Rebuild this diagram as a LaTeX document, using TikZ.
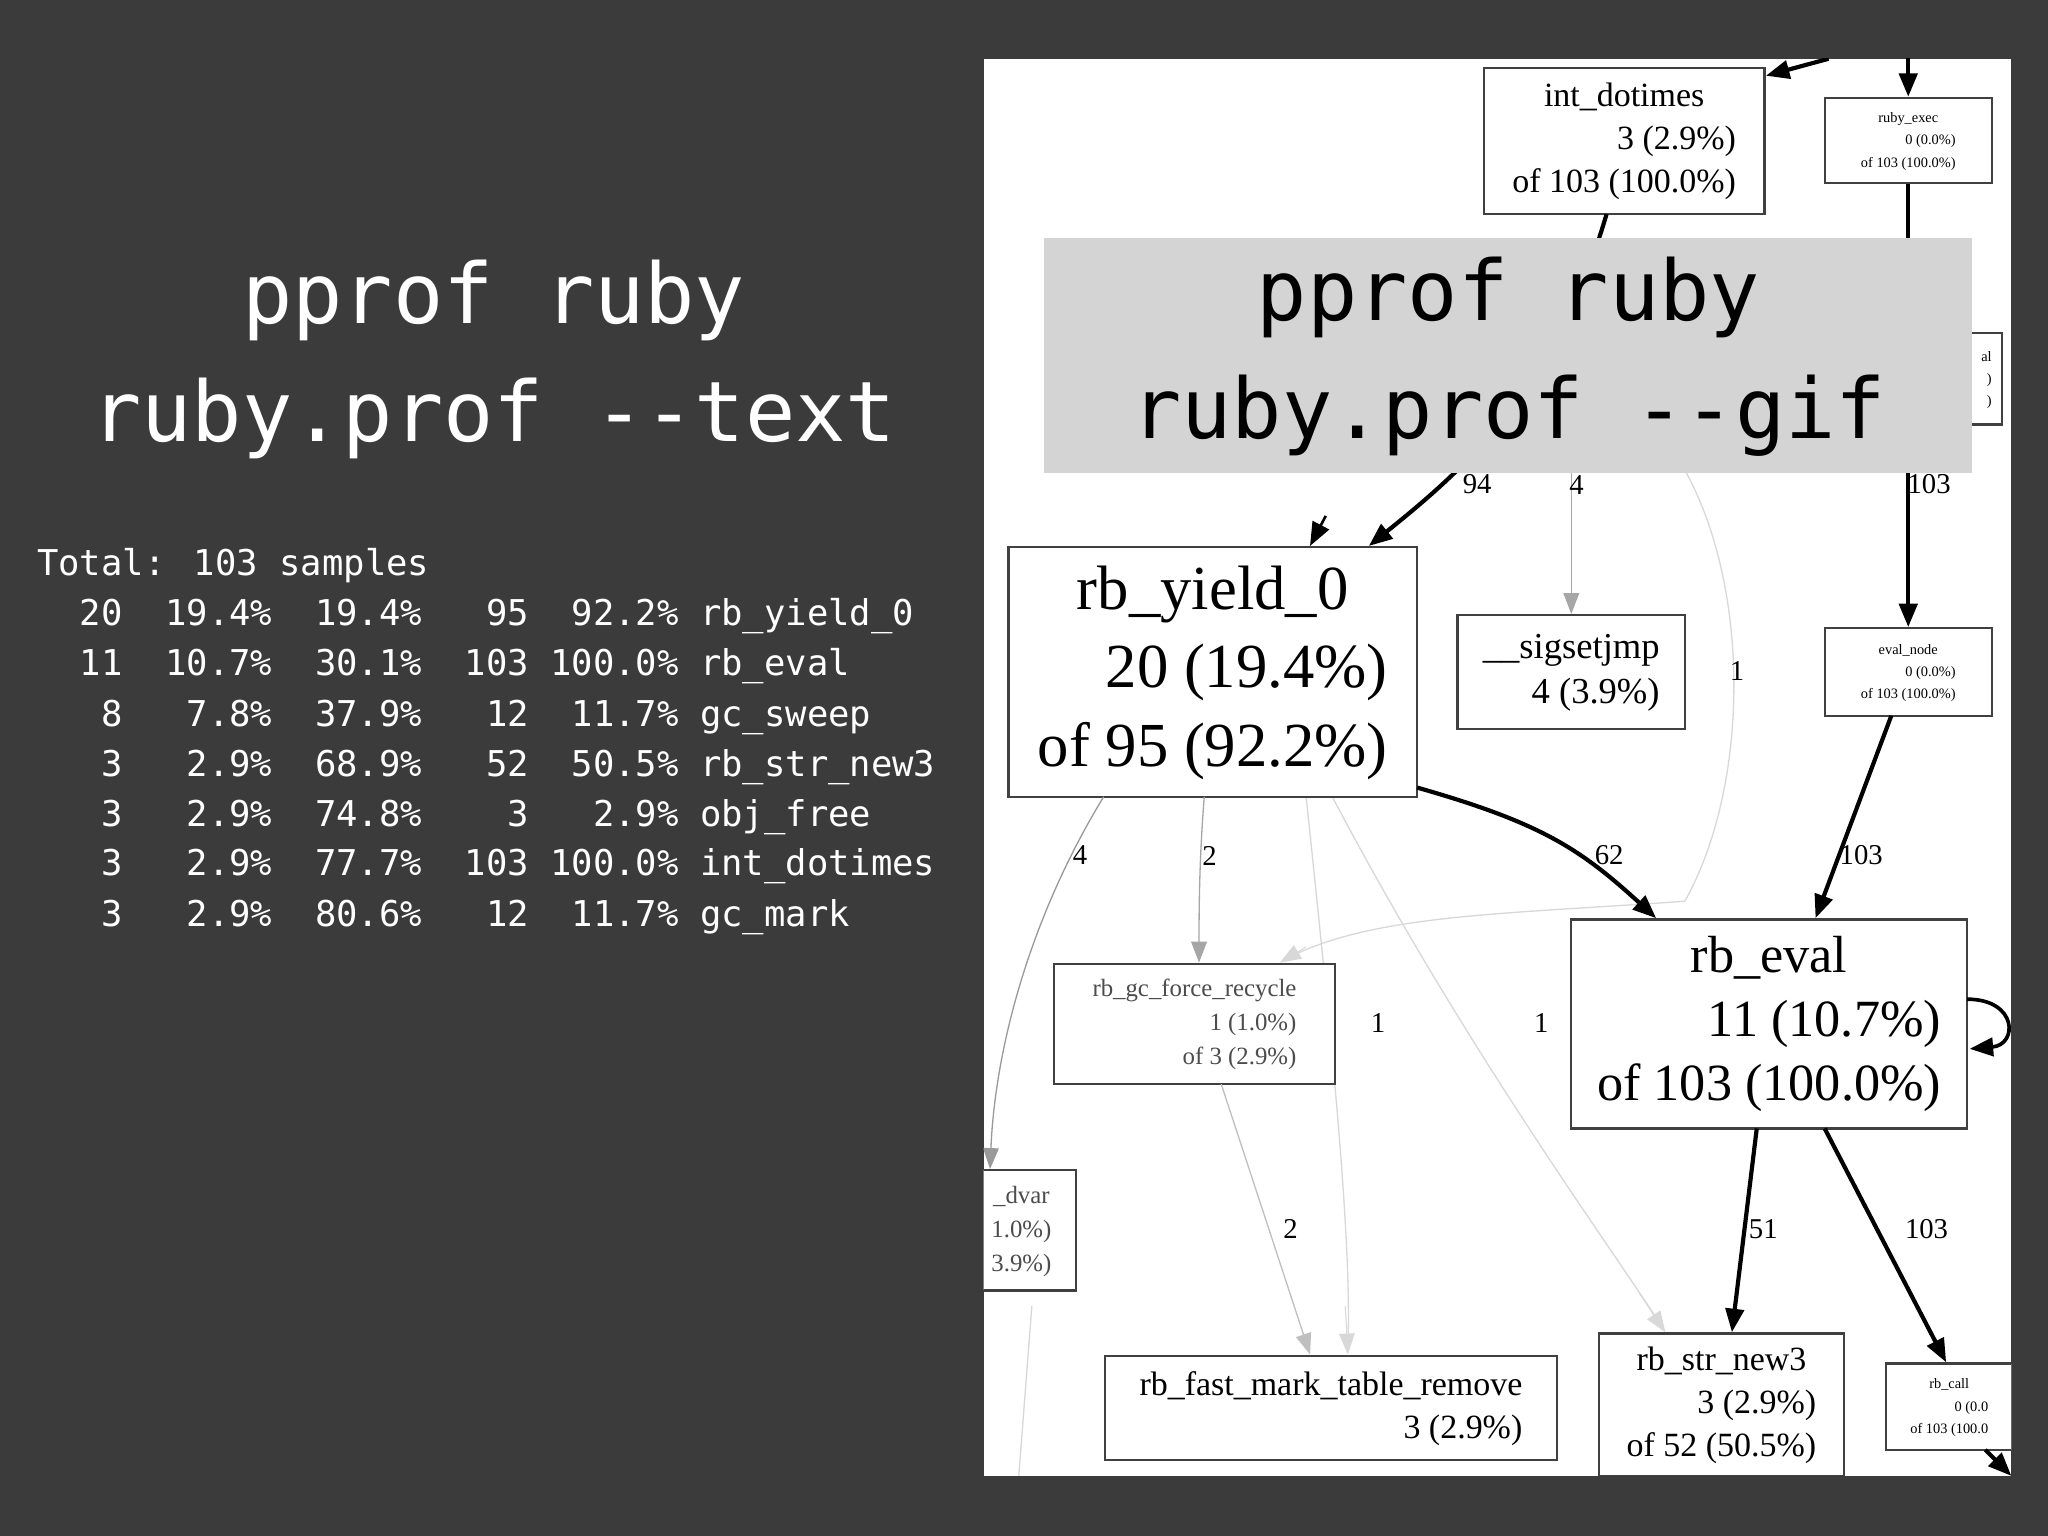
\documentclass[tikz,border=0pt]{standalone}
\usepackage{fontspec}
\setmainfont{Liberation Serif}
\newfontfamily\monof{DejaVu Sans Mono}
\usetikzlibrary{arrows.meta}
\definecolor{bgc}{HTML}{3B3B3B}
\definecolor{gboxc}{HTML}{D4D4D4}
\definecolor{faint}{HTML}{D8D8D8}
\newcommand{\gvlab}[3]{\begin{tabular}{@{}r@{}}\multicolumn{1}{@{}c@{}}{#1}\\#2\\#3\end{tabular}}
\newcommand{\gvtwo}[2]{\begin{tabular}{@{}r@{}}\multicolumn{1}{@{}c@{}}{#1}\\#2\end{tabular}}
\newcommand{\us}{\char`\_}
\begin{document}
\begin{tikzpicture}[x=0.5pt,y=-0.5pt,
  gbox/.style={draw=black!75,line width=0.9pt,fill=white,inner sep=0pt,align=right},
  thk/.style={draw=black,line width=1.6pt,-{Triangle[length=9pt,width=7pt]}},
  thn/.style={draw=black!55,line width=0.5pt,-{Triangle[length=8pt,width=6pt]}},
  fnt/.style={draw=faint,line width=0.5pt},
  elab/.style={font=\fontsize{11}{12}\selectfont,inner sep=0pt},
  row/.style={anchor=west,text=white,font=\monof\fontsize{13.6}{15}\selectfont,inner sep=0pt}]
\useasboundingbox (0,0) rectangle (1568,1176);
\fill[bgc] (0,0) rectangle (1568,1176);
% left
\node[text=white,font=\monof\fontsize{32}{45}\selectfont,align=center] (ltitle) at (378,275) {pprof ruby\\ruby.prof --text};
\node[row] (r0) at (28,433) {Total: 103 samples};
\node[row] (r1) at (28,472) {~~20~~19.4\%~~19.4\%~~~95~~92.2\% rb\us yield\us 0};
\node[row] (r2) at (28,510) {~~11~~10.7\%~~30.1\%~~103 100.0\% rb\us eval};
\node[row] (r3) at (28,549) {~~~8~~~7.8\%~~37.9\%~~~12~~11.7\% gc\us sweep};
\node[row] (r4) at (28,587) {~~~3~~~2.9\%~~68.9\%~~~52~~50.5\% rb\us str\us new3};
\node[row] (r5) at (28,626) {~~~3~~~2.9\%~~74.8\%~~~~3~~~2.9\% obj\us free};
\node[row] (r6) at (28,663) {~~~3~~~2.9\%~~77.7\%~~103 100.0\% int\us dotimes};
\node[row] (r7) at (28,702) {~~~3~~~2.9\%~~80.6\%~~~12~~11.7\% gc\us mark};
% panel
\fill[white] (753,45) rectangle (1540,1130);
\begin{scope}
\clip (753,45) rectangle (1540,1130);
% faint edges
\draw[fnt] (1000,610) .. controls (1020,800) and (1035,950) .. (1032,1030);
\draw[fnt] (1020,610) .. controls (1120,800) and (1230,950) .. (1272,1015);
\draw[fnt] (1290,360) .. controls (1340,450) and (1340,600) .. (1290,690);
\draw[fnt] (1290,690) .. controls (1150,700) and (1050,700) .. (985,734);
\draw[fnt] (780,1130) -- (790,1000);
% nodes
\node[gbox,minimum width=107.5pt,minimum height=56pt,font=\fontsize{13}{16.5}\selectfont] (intd) at (1243.5,108) {\gvlab{int\_dotimes}{3 (2.9\%)}{of 103 (100.0\%)}};
\node[gbox,minimum width=64pt,minimum height=32.5pt,font=\fontsize{5.5}{8.5}\selectfont] (rexec) at (1461,107.5) {\gvlab{ruby\_exec}{0 (0.0\%)}{of 103 (100.0\%)}};
\node[gbox,minimum width=156.5pt,minimum height=95.5pt,font=\fontsize{24}{30}\selectfont] (yield) at (928.5,514.5) {\gvlab{rb\_yield\_0}{20 (19.4\%)}{of 95 (92.2\%)}};
\node[gbox,minimum width=87pt,minimum height=43.5pt,font=\fontsize{14}{17}\selectfont] (sig) at (1203,514.5) {\gvtwo{\_\_sigsetjmp}{4 (3.9\%)}};
\node[gbox,minimum width=64pt,minimum height=33.5pt,font=\fontsize{5.5}{8.5}\selectfont] (evnode) at (1461,514.5) {\gvlab{eval\_node}{0 (0.0\%)}{of 103 (100.0\%)}};
\node[gbox,minimum width=151.5pt,minimum height=80pt,font=\fontsize{20}{24.5}\selectfont] (reval) at (1354.5,784) {\gvlab{rb\_eval}{11 (10.7\%)}{of 103 (100.0\%)}};
\node[gbox,minimum width=107.5pt,minimum height=46pt,font=\fontsize{9.5}{13}\selectfont,text=black!70] (gcfr) at (914.5,784) {\gvlab{rb\_gc\_force\_recycle}{1 (1.0\%)}{of 3 (2.9\%)}};
\node[gbox,minimum width=42pt,minimum height=46pt,font=\fontsize{9.5}{13}\selectfont,text=black!70] (dvar) at (782,942) {\gvlab{\_dvar}{1.0\%)}{3.9\%)}};
\node[gbox,minimum width=173pt,minimum height=40pt,font=\fontsize{13}{16.5}\selectfont] (fmt) at (1019,1078) {\gvtwo{rb\_fast\_mark\_table\_remove}{3 (2.9\%)}};
\node[gbox,minimum width=94pt,minimum height=54.5pt,font=\fontsize{13}{16.5}\selectfont] (strnew) at (1318,1075.5) {\gvlab{rb\_str\_new3}{3 (2.9\%)}{of 52 (50.5\%)}};
\node[gbox,minimum width=48.5pt,minimum height=33pt,font=\fontsize{5.5}{8.5}\selectfont,anchor=west] (rcall) at (1443,1077) {\gvlab{rb\_call}{0 (0.0}{of 103 (100.0}};
\node[gbox,minimum width=12pt,minimum height=35pt,font=\fontsize{5.5}{8.5}\selectfont,anchor=west] (part) at (1508,290) {\gvlab{al}{)}{)}};
% coordinates
\coordinate (topA) at (1400,45);
\coordinate (topB) at (1461,40);
\coordinate (inY) at (1015,395);
\coordinate (sigsrc) at (1203,362);
\coordinate (outR) at (1540,1130);
% edges
\draw[thk] (topA) -- (1352,58);
\draw[thk] (topB) -- (rexec.north);
\draw[thk] (1230,164) .. controls (1190,300) and (1120,360) .. (1048,418);
\node[elab] (l94) at (1131,371) {94};
\draw[thk,line width=1pt] (inY) -- (1003,418);
\draw[thn,draw=black!35] (sigsrc) -- (sig.north);
\node[elab] (l4a) at (1207,371) {4};
\draw[thk] (rexec.south) -- (evnode.north);
\node[elab] (l103a) at (1477,371) {103};
\draw[thk] (1448,548) -- (1390,703);
\node[elab] (l103b) at (1425,655) {103};
\draw[thk] (1085,603) .. controls (1180,630) and (1210,650) .. (1268,703);
\node[elab] (l62) at (1232,655) {62};
\draw[thk,line width=1.4pt] (1506,765) .. controls (1545,765) and (1545,800) .. (1508,803);
\draw[thk] (1345,864) -- (1326,1020);
\node[elab] (l51) at (1350,941) {51};
\draw[thk] (1397,864) -- (1490,1043);
\node[elab] (l103c) at (1475,941) {103};
\draw[thk] (1520,1110) -- (outR);
\draw[thn,draw=black!40] (845,610) .. controls (790,700) and (762,800) .. (758,895);
\node[elab] (l4b) at (827,655) {4};
\draw[thn,draw=black!35] (922,610) .. controls (918,660) and (918,700) .. (918,737);
\node[elab] (l2a) at (926,655) {2};
\draw[thn,draw=black!25] (935,830) -- (1003,1037);
\node[elab] (l2b) at (988,941) {2};
\draw[-{Triangle[length=8pt,width=6pt]},draw=faint] (1030,1000) -- (1032,1037);
\draw[-{Triangle[length=8pt,width=6pt]},draw=faint] (1255,990) -- (1275,1020);
\draw[-{Triangle[length=8pt,width=6pt]},draw=faint] (1000,725) -- (980,737);
\node[elab] (l1a) at (1055,783) {1};
\node[elab] (l1b) at (1180,783) {1};
\node[elab] (l1c) at (1330,514) {1};
\end{scope}
% gray title box
\fill[gboxc] (799,182) rectangle (1510,362);
\node[text=black,font=\monof\fontsize{32}{45}\selectfont,align=center] (rtitle) at (1155,273) {pprof ruby\\ruby.prof --gif};
\end{tikzpicture}
\end{document}
